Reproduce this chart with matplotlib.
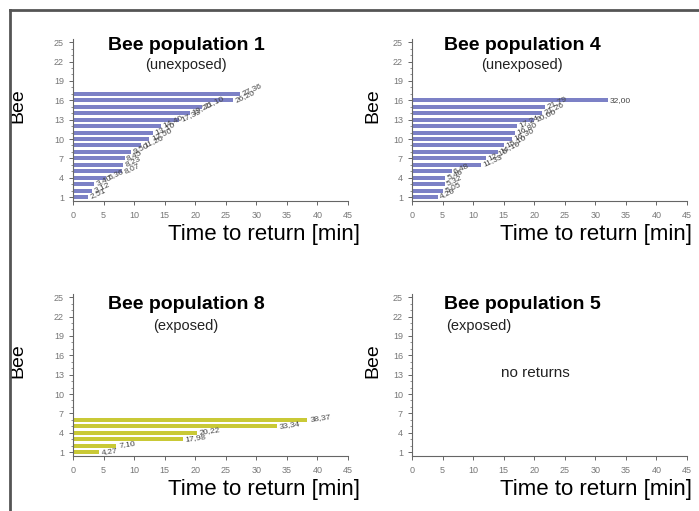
import numpy as np
import matplotlib
matplotlib.use("Agg")
import matplotlib.pyplot as plt
import matplotlib.ticker as ticker
from matplotlib.lines import Line2D

plt.rcParams['font.family'] = ['Liberation Sans', 'DejaVu Sans']

# return times per bee [min]
pop1_bees = list(range(1, 18))
pop1_times = [2.51, 3.12, 3.40, 5.36, 8.07, 8.23, 8.45, 9.50, 11.20, 12.50,
              13.10, 14.40, 17.33, 19.20, 21.10, 26.20, 27.36]

pop4_bees = list(range(1, 17))
pop4_times = [4.20, 5.05, 5.32, 5.46, 6.48, 11.33, 12.15, 14.10, 15.10, 16.30,
              16.80, 17.24, 20.00, 21.26, 21.79, 32.00]

pop8_bees = [1, 2, 3, 4, 5, 6]
pop8_times = [4.27, 7.10, 17.98, 20.22, 33.34, 38.37]

pop5_bees = []
pop5_times = []

yticks = [1, 4, 7, 10, 13, 16, 19, 22, 25]
xticks = [0, 5, 10, 15, 20, 25, 30, 35, 40, 45]

BLUE = '#7c81c6'
YELLOW = '#c9c936'


def comma(v):
    return "{:.2f}".format(v).replace('.', ',')


def setup(ax, title, sub, tx, ty, sy, sub_x=None, sub_ha='center'):
    ax.set_xlim(0, 45)
    ax.set_ylim(0.4, 25.5)
    for s in ['top', 'right']:
        ax.spines[s].set_visible(False)
    for s in ['left', 'bottom']:
        ax.spines[s].set_color('#666666')
        ax.spines[s].set_linewidth(0.8)
    ax.set_yticks(yticks)
    ax.set_xticks(xticks)
    ax.yaxis.set_minor_locator(ticker.MultipleLocator(1))
    ax.tick_params(axis='both', which='major', length=3, width=0.7,
                   colors='#666666', labelsize=6.5, labelcolor='#777777')
    ax.tick_params(axis='y', which='minor', length=1.5, width=0.5, colors='#666666')
    ax.tick_params(axis='x', pad=4)
    ax.set_ylabel('Bee', fontsize=14)
    ax.set_xlabel('Time to return [min]', fontsize=16, ha='right')
    ax.text(tx, ty, title, fontsize=14, fontweight='bold', ha='center', va='center')
    if sub_x is None:
        sub_x = tx
    ax.text(sub_x, sy, sub, fontsize=10.5, ha=sub_ha, va='center', color='#222222')


def bars(ax, bees, times, color, fs=6, rot=25, top_rot=None):
    ax.barh(bees, times, height=0.62, color=color, edgecolor='none')
    for b, t in zip(bees, times):
        r = rot
        if top_rot is not None and b == bees[-1]:
            r = top_rot
        ax.text(t + 0.4, b, comma(t), fontsize=fs, rotation=r, color='#444444',
                ha='left', va='center', rotation_mode='anchor')


fig = plt.figure(figsize=(6.99, 5.11), dpi=100)

W, H = 699.0, 511.0
ax1 = fig.add_axes([73 / W, 1 - 201 / H, 275 / W, 162 / H])
ax4 = fig.add_axes([412 / W, 1 - 201 / H, 275 / W, 162 / H])
ax8 = fig.add_axes([73 / W, 1 - 456 / H, 275 / W, 162 / H])
ax5 = fig.add_axes([412 / W, 1 - 456 / H, 275 / W, 162 / H])

setup(ax1, 'Bee population 1', '(unexposed)', 18.5, 24.5, 21.4)
setup(ax4, 'Bee population 4', '(unexposed)', 18.0, 24.5, 21.4)
setup(ax8, 'Bee population 8', '(exposed)', 18.5, 23.9, 20.6)
setup(ax5, 'Bee population 5', '(exposed)', 18.0, 23.9, 20.6, sub_x=5.6, sub_ha='left')

bars(ax1, pop1_bees, pop1_times, BLUE)
bars(ax4, pop4_bees, pop4_times, BLUE, top_rot=0)
bars(ax8, pop8_bees, pop8_times, YELLOW, rot=8)

ax5.text(14.5, 13.3, 'no returns', fontsize=11, ha='left', va='center', color='#222222')

for ax in (ax1, ax8):
    ax.yaxis.set_label_coords(-0.17, 0.59)
    ax.xaxis.set_label_coords(1.045, -0.14)
for ax in (ax4, ax5):
    ax.yaxis.set_label_coords(-0.11, 0.59)
    ax.xaxis.set_label_coords(1.02, -0.14)

# outer frame (left and top)
fig.add_artist(Line2D([9.5 / W, 9.5 / W], [0, 1 - 10 / H], color='#555555', lw=2))
fig.add_artist(Line2D([9.5 / W, 1], [1 - 10 / H, 1 - 10 / H], color='#555555', lw=2))

fig.savefig('out.png', dpi=100)
